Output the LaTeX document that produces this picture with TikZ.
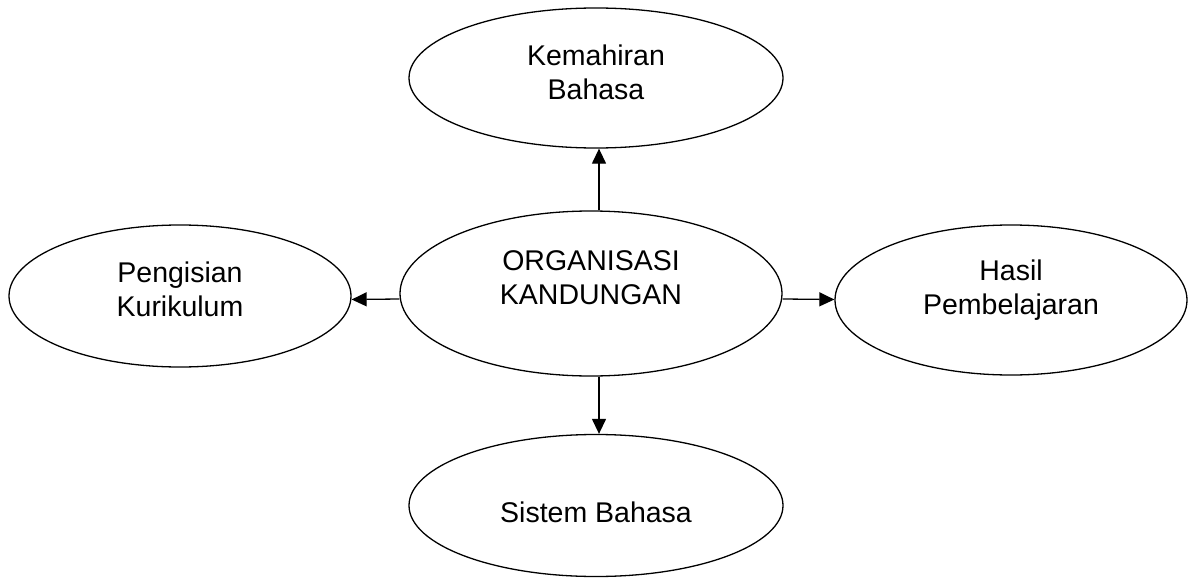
\documentclass[tikz,border=0pt]{standalone}
\usepackage{fontspec}
\setmainfont{Liberation Sans}
\usepackage{tikz}
\usetikzlibrary{arrows.meta,shapes.geometric}

\begin{document}
\begin{tikzpicture}[x=1pt,y=-1pt,
    blob/.style={draw,ellipse,line width=1.3pt,inner sep=0pt},
    txt/.style={align=center,font=\fontsize{28.5}{34}\selectfont},
    arr/.style={line width=1.3pt,-{Triangle[length=15pt,width=14pt]}}]
\useasboundingbox (0,0) rectangle (1189,578);
% Ellipses with their labels
\foreach \nm/\cx/\cy/\rx/\ry/\dy/\txt in {
    kb/596/78/187/70/-6/{Kemahiran\\Bahasa},
    oc/591/293.5/191/82.5/-16/{ORGANISASI\\KANDUNGAN},
    pk/180/296/171/71/-7/{Pengisian\\Kurikulum},
    hp/1011/300/176/75/-10/{Hasil\\Pembelajaran},
    sb/596/505.5/187/71/7/{Sistem Bahasa}} {
    \node[blob,minimum width=2*\rx pt,minimum height=2*\ry pt] (\nm) at (\cx,\cy) {};
    \node[txt] (\nm-t) at (\cx,\cy+\dy) {\txt};
}
% Arrows from the centre
\draw[arr] ([xshift=8pt]oc.north) -- ([xshift=3pt]kb.south);
\draw[arr] ([xshift=8pt]oc.south) -- ([xshift=3pt]sb.north);
\draw[arr] ([yshift=-5.5pt]oc.west) -- (pk.east |- 0,299.5);
\draw[arr] ([yshift=-5.5pt]oc.east) -- (hp.west |- 0,299.5);
\end{tikzpicture}
\end{document}
